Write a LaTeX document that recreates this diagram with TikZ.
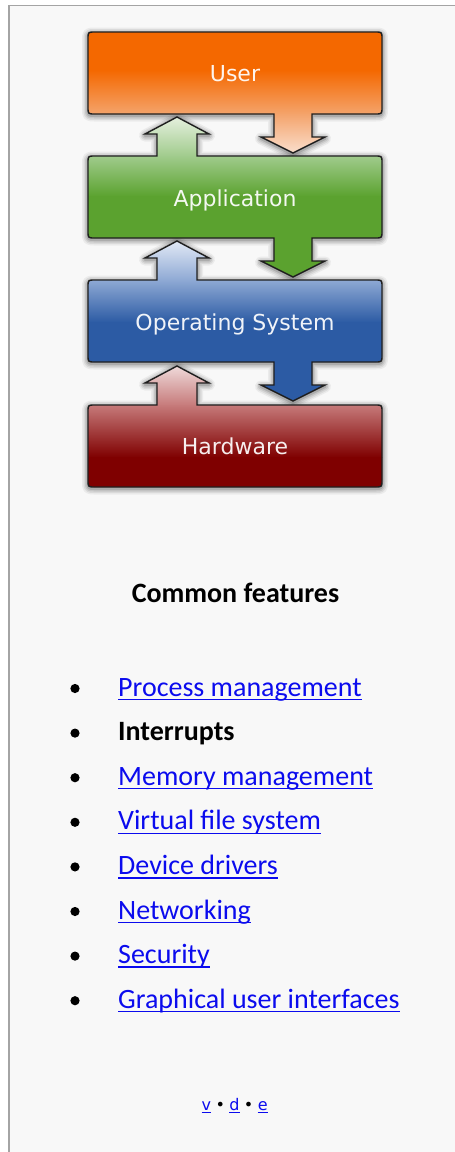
\documentclass[tikz,border=0pt]{standalone}
\usepackage{fontspec}
\setmainfont{Carlito}
\newfontfamily\vera{DejaVu Sans}
\definecolor{pagebg}{HTML}{F8F8F8}
\definecolor{framegray}{HTML}{A4A4A4}
\definecolor{linkblue}{HTML}{0B0BEE}
\definecolor{usrA}{HTML}{F46800}
\definecolor{usrB}{HTML}{F4A46C}
\definecolor{usrC}{HTML}{FBE9DE}
\definecolor{appA}{HTML}{F1F6EC}
\definecolor{appB}{HTML}{A0CB8C}
\definecolor{appC}{HTML}{5BA22F}
\definecolor{osA}{HTML}{EEF2FA}
\definecolor{osB}{HTML}{8EA9D4}
\definecolor{osC}{HTML}{2C5BA4}
\definecolor{hwA}{HTML}{F5E8E8}
\definecolor{hwB}{HTML}{C67A7A}
\definecolor{hwC}{HTML}{7F0000}
% arrow pieces: up arrow above a box whose top is #1, down arrow below a box whose bottom is #1
\newcommand\uppart[1]{-- (157,#1) -- (157,#1-22) -- (145,#1-22) -- (177,#1-39) -- (209,#1-22) -- (197,#1-22) -- (197,#1)}
\newcommand\downpart[1]{-- (312,#1) -- (312,#1+23) -- (325,#1+23) -- (293,#1+39) -- (261,#1+23) -- (274,#1+23) -- (274,#1)}
% whole shape: box with top #1 (height 82), optional up part #2, optional down part #3
\newcommand\shapepath[3]{(88,#1+7) .. controls (88,#1) .. (95,#1) #2 -- (375,#1) .. controls (382,#1) .. (382,#1+7) -- (382,#1+75) .. controls (382,#1+82) .. (375,#1+82) #3 -- (95,#1+82) .. controls (88,#1+82) .. (88,#1+75) -- cycle}
\newcommand\shadowof[3]{%
  \foreach \w/\o in {12/0.05,9/0.07,6/0.09,3/0.13}{%
    \draw[line width=\w, black, opacity=\o, line join=round, yshift=-1.5pt] \shapepath{#1}{#2}{#3};}}
\begin{document}
\begin{tikzpicture}[x=1pt,y=-1pt,
  boxlabel/.style={font=\vera\fontsize{22}{22}\selectfont, text=white, text opacity=0.93, anchor=base, inner sep=0pt},
  linktext/.style={font=\fontsize{28}{28}\selectfont, text=linkblue, anchor=base west, inner sep=0pt},
  boldtext/.style={font=\bfseries\fontsize{28}{28}\selectfont, text=black, anchor=base west, inner sep=0pt},
  footlink/.style={font=\vera\fontsize{16}{16}\selectfont, text=linkblue, anchor=base, inner sep=0pt},
  footsep/.style={font=\vera\fontsize{16}{16}\selectfont, text=black, inner sep=0pt},
  outline/.style={draw=black!88, line width=1.4, line join=miter},
  uline/.style={linkblue, line width=1.5},
]
\useasboundingbox (0,0) rectangle (455,1152);
\fill[white] (0,0) rectangle (455,1152);
\fill[pagebg] (9,5) rectangle (455,1152);
\draw[framegray, line width=1] (8,5) -- (455,5);
\draw[framegray, line width=2] (9,5) -- (9,1152);

% ---- shadows
\shadowof{32}{}{\downpart{114}}
\shadowof{156}{\uppart{156}}{\downpart{238}}
\shadowof{280}{\uppart{280}}{\downpart{362}}
\shadowof{405}{\uppart{405}}{}

% ---- User
\begin{scope}
  \clip \shapepath{32}{}{\downpart{114}};
  \fill[usrA] (80,20) rectangle (390,70.5);
  \shade[top color=usrA, bottom color=usrB] (80,70) rectangle (390,114.5);
  \shade[top color=usrB, bottom color=usrC] (80,114) rectangle (390,160);
\end{scope}
\path[outline] \shapepath{32}{}{\downpart{114}};
% ---- Application
\begin{scope}
  \clip \shapepath{156}{\uppart{156}}{\downpart{238}};
  \shade[top color=appA, bottom color=appB] (80,110) rectangle (390,156.5);
  \shade[top color=appB, bottom color=appC] (80,156) rectangle (390,196.5);
  \fill[appC] (80,196) rectangle (390,290);
\end{scope}
\path[outline] \shapepath{156}{\uppart{156}}{\downpart{238}};
% ---- Operating System
\begin{scope}
  \clip \shapepath{280}{\uppart{280}}{\downpart{362}};
  \shade[top color=osA, bottom color=osB] (80,235) rectangle (390,280.5);
  \shade[top color=osB, bottom color=osC] (80,280) rectangle (390,322.5);
  \fill[osC] (80,322) rectangle (390,410);
\end{scope}
\path[outline] \shapepath{280}{\uppart{280}}{\downpart{362}};
% ---- Hardware
\begin{scope}
  \clip \shapepath{405}{\uppart{405}}{};
  \shade[top color=hwA, bottom color=hwB] (80,360) rectangle (390,405.5);
  \shade[top color=hwB, bottom color=hwC] (80,405) rectangle (390,457.5);
  \fill[hwC] (80,457) rectangle (390,495);
\end{scope}
\path[outline] \shapepath{405}{\uppart{405}}{};

% ---- box labels
\node[boxlabel] (user) at (235,81.5) {User};
\node[boxlabel] (app) at (235,206) {Application};
\node[boxlabel] (os) at (235,330.5) {Operating System};
\node[boxlabel] (hw) at (235,454.5) {Hardware};

% ---- heading
\node[font=\bfseries\fontsize{28}{28}\selectfont, anchor=base, inner sep=0pt] (head) at (235.5,602) {Common features};

% ---- list
\newcommand\linkitem[3]{%
  \fill (75,#2-7.5) circle (4.6);
  \node[linktext] (#1) at (118,#2) {#3};
  \draw[uline] ([yshift=-3.5pt]#1.base west) -- ([yshift=-3.5pt]#1.base east);}
\linkitem{i1}{696}{Process management}
\fill (75,740.6-7.5) circle (4.6);
\node[boldtext] (i2) at (118,740.6) {Interrupts};
\linkitem{i3}{785.2}{Memory management}
\linkitem{i4}{829.8}{Virtual file system}
\linkitem{i5}{874.4}{Device drivers}
\linkitem{i6}{919}{Networking}
\linkitem{i7}{963.6}{Security}
\linkitem{i8}{1008.2}{Graphical user interfaces}

% ---- footer v . d . e
\node[footlink] (fd) at (234.5,1110) {d};
\node[footsep, anchor=base east] (s1) at (fd.base west) {\kern4pt•\kern4pt};
\node[footsep, anchor=base west] (s2) at (fd.base east) {\kern4pt•\kern4pt};
\node[footlink, anchor=base east] (fv) at (s1.base west) {v};
\node[footlink, anchor=base west] (fe) at (s2.base east) {e};
\foreach \n in {fv,fd,fe}{\draw[linkblue, line width=1.3] ([yshift=-2.5pt]\n.base west) -- ([yshift=-2.5pt]\n.base east);}
\end{tikzpicture}
\end{document}
